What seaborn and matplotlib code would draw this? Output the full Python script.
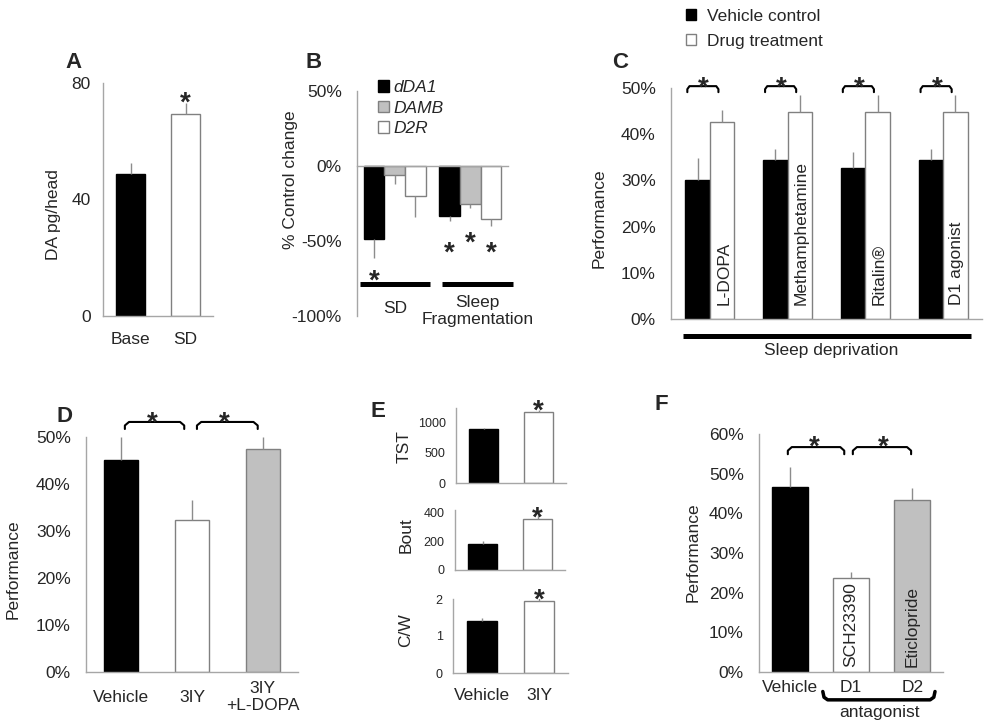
import numpy as np
import pandas as pd
import matplotlib
matplotlib.use("Agg")
import matplotlib.pyplot as plt
import matplotlib.transforms as mtransforms
from matplotlib.patches import Patch
import seaborn as sns

# ---------------- data ----------------
a_categories = ["Base", "SD"]
a_values = [48.8, 69.4]
a_errors = [3.7, 3.7]

b_groups = ["SD", "Sleep\nFragmentation"]
b_receptors = ["dDA1", "DAMB", "D2R"]
b_dda1 = [-48.5, -33.5]
b_damb = [-6.0, -25.5]
b_d2r = [-20.0, -35.5]
b_dda1_err = [12.5, 3.0]
b_damb_err = [6.0, 2.5]
b_d2r_err = [14.0, 4.5]

c_drugs = ["L-DOPA", "Methamphetamine", "Ritalin®", "D1 agonist"]
c_conditions = ["Vehicle control", "Drug treatment"]
c_vehicle = [30.0, 34.4, 32.6, 34.4]
c_vehicle_err = [4.8, 2.4, 3.6, 2.4]
c_drug = [42.6, 44.9, 44.9, 44.9]
c_drug_err = [2.6, 3.5, 3.5, 3.5]
c_group_label = "Sleep deprivation"

d_categories = ["Vehicle", "3IY", "3IY\n+L-DOPA"]
d_values = [45.2, 32.4, 47.5]
d_errors = [4.8, 4.2, 2.5]

e_categories = ["Vehicle", "3IY"]
e_tst = [890, 1159]
e_tst_err = [12, 38]
e_bout = [179, 352]
e_bout_err = [20, 30]
e_cw = [1.40, 1.94]
e_cw_err = [0.09, 0.12]

f_categories = ["Vehicle", "D1", "D2"]
f_drugs = ["", "SCH23390", "Eticlopride"]
f_values = [46.6, 23.6, 43.3]
f_errors = [5.2, 1.6, 3.0]
f_group_label = "antagonist"

# ---------------- style ----------------
W, H = 994, 726
sns.set_style("white")
plt.rcParams["font.family"] = ["Liberation Sans", "DejaVu Sans"]
fig = plt.figure(figsize=(W / 100, H / 100), dpi=100)
fig.patch.set_facecolor("white")

AX_GRAY = "#a6a6a6"
ERR_GRAY = "#8c8c8c"
EDGE_GRAY = "#808080"
BAR_BLACK = "#000000"
BAR_WHITE = "#ffffff"
BAR_GRAY = "#c0c0c0"
PT = 72 / 100  # points per pixel
FS = 12.5


def add_ax(x0, y0, x1, y1):
    return fig.add_axes([x0 / W, 1 - y1 / H, (x1 - x0) / W, (y1 - y0) / H])


def pct(v):
    return f"{v:g}%"


def num(v):
    return f"{v:g}"


def style_axes(ax, n, ylim, yticks, fmt, xlabels=None, xpad_px=0,
               ytick_size=FS, ypad=7.5):
    ax.set_xlim(-0.5, n - 0.5)
    ax.set_ylim(*ylim)
    ax.set_yticks(yticks)
    ax.set_yticklabels([fmt(v) for v in yticks])
    ax.set_xticks(np.arange(n))
    ax.set_xticks(np.arange(n + 1) - 0.5, minor=True)
    if xlabels is None:
        ax.set_xticklabels([])
    else:
        ax.set_xticklabels(xlabels, fontsize=FS)
        for t in ax.get_xticklabels():
            t.set_va("center")
    ax.tick_params(axis="x", which="major", length=0, pad=xpad_px * PT)
    ax.tick_params(axis="x", which="minor", length=4, width=1,
                   color=AX_GRAY, direction="out")
    ax.tick_params(axis="y", length=3.5, width=1, color=AX_GRAY,
                   direction="out", labelsize=ytick_size, pad=ypad)
    for s in ("top", "right"):
        ax.spines[s].set_visible(False)
    for s in ("left", "bottom"):
        ax.spines[s].set_color(AX_GRAY)
        ax.spines[s].set_linewidth(1)
    ax.set_xlabel("")
    ax.set_ylabel("")
    ax.patch.set_alpha(0)


def simple_bars(ax, cats, vals, errs, colors, width):
    df = pd.DataFrame({"category": cats, "value": vals})
    sns.barplot(data=df, x="category", y="value", hue="category", order=cats,
                hue_order=cats, palette=colors, width=width, dodge=False,
                errorbar=None, legend=False, ax=ax, linewidth=1, saturation=1)
    for p, c in zip(ax.patches, colors):
        p.set_edgecolor("#000000" if c == BAR_BLACK else EDGE_GRAY)
    x = np.arange(len(cats))
    ax.errorbar(x, vals, yerr=[np.zeros(len(vals)), errs], fmt="none",
                ecolor=ERR_GRAY, elinewidth=1, capsize=0, zorder=1)


def grouped_bars(ax, groups, series, values_by_series, colors, width):
    rows = []
    for s, vals in zip(series, values_by_series):
        for g, v in zip(groups, vals):
            rows.append({"group": g, "series": s, "value": v})
    df = pd.DataFrame(rows)
    sns.barplot(data=df, x="group", y="value", hue="series", order=groups,
                hue_order=series, palette=colors, width=width, gap=0,
                errorbar=None, legend=False, ax=ax, linewidth=1, saturation=1)
    for p in ax.patches:
        fc = p.get_facecolor()
        p.set_edgecolor("#000000" if fc[0] < 0.1 else EDGE_GRAY)
    n = len(series)
    return {s: np.arange(len(groups)) + width * ((i + 0.5) / n - 0.5)
            for i, s in enumerate(series)}


def star(ax, x, y, size=20):
    ax.annotate("*", xy=(x, y), xytext=(0, -0.64 * size),
                textcoords="offset points", ha="center", va="baseline",
                fontsize=size, fontweight="bold", annotation_clip=False)


def bracket(ax, x0, x1, y_low, y_high):
    dx = (x1 - x0) * 0.07
    dy = (y_high - y_low) * 0.5
    ax.plot([x0, x0, x0 + dx, x1 - dx, x1, x1],
            [y_low, y_high - dy, y_high, y_high, y_high - dy, y_low],
            color="black", lw=1.5, clip_on=False, solid_joinstyle="round")


def ylabel_at(ax, text, xpx, ypx, size=FS):
    ax.set_ylabel(text, fontsize=size, va="center", ha="center")
    bb = ax.get_position()
    x0 = bb.x0 * W
    ytop = (1 - bb.y1) * H
    w = bb.width * W
    h = bb.height * H
    ax.yaxis.set_label_coords((xpx - x0) / w, 1 - (ypx - ytop) / h)


def panel_letter(letter, xpx, ypx):
    fig.text(xpx / W, 1 - ypx / H, letter, fontsize=16, fontweight="bold",
             ha="center", va="center")


# ---------------- Panel A ----------------
axA = add_ax(103, 83, 213, 316)
simple_bars(axA, a_categories, a_values, a_errors, [BAR_BLACK, BAR_WHITE], 0.53)
style_axes(axA, 2, (0, 80), [0, 40, 80], num, a_categories, 24, ypad=5.5)
ylabel_at(axA, "DA pg/head", 54, 215)
star(axA, 1, 76.6)
panel_letter("A", 74, 63)

# ---------------- Panel B ----------------
axB = add_ax(357, 91, 508, 316)
b_vals = [b_dda1, b_damb, b_d2r]
b_errs = [b_dda1_err, b_damb_err, b_d2r_err]
b_colors = [BAR_BLACK, BAR_GRAY, BAR_WHITE]
cB = grouped_bars(axB, b_groups, b_receptors, b_vals, b_colors, 0.82)
for s, v, e in zip(b_receptors, b_vals, b_errs):
    axB.errorbar(cB[s], v, yerr=[e, np.zeros(len(e))], fmt="none",
                 ecolor=ERR_GRAY, elinewidth=1, capsize=0, zorder=1)
style_axes(axB, 2, (-100, 50), [-100, -50, 0, 50], pct, None)
axB.spines["bottom"].set_position(("data", 0))
b_star_levels = {"dDA1": [-70, -51.3], "DAMB": [None, -44.7], "D2R": [None, -51.3]}
for s in b_receptors:
    for j, yv in enumerate(b_star_levels[s]):
        if yv is not None:
            star(axB, cB[s][j], yv)
axB.plot([-0.46, 0.47], [-78.7, -78.7], color="black", lw=3.6,
         clip_on=False, solid_capstyle="butt")
axB.plot([0.62, 1.57], [-78.7, -78.7], color="black", lw=3.6,
         clip_on=False, solid_capstyle="butt")
axB.text(0.005, -94.7, b_groups[0], ha="center", va="center", fontsize=FS)
axB.text(1.095, -96.7, b_groups[1], ha="center", va="center", fontsize=FS)
ylabel_at(axB, "% Control change", 290, 180)
hB = [Patch(facecolor=c, edgecolor=("#000000" if c == BAR_BLACK else EDGE_GRAY),
            linewidth=1) for c in b_colors]
axB.legend(hB, b_receptors, loc="upper left",
           bbox_to_anchor=(378 / W, 1 - 80 / H), bbox_transform=fig.transFigure,
           frameon=False, prop={"style": "italic", "size": FS},
           handlelength=0.65, handleheight=0.65, handletextpad=0.25,
           labelspacing=0.32, borderpad=0, borderaxespad=0)
panel_letter("B", 314, 62)

# ---------------- Panel C ----------------
axC = add_ax(671, 88, 982, 319)
cC = grouped_bars(axC, c_drugs, c_conditions, [c_vehicle, c_drug],
                  [BAR_BLACK, BAR_WHITE], 0.63)
axC.errorbar(cC[c_conditions[0]], c_vehicle,
             yerr=[np.zeros(4), c_vehicle_err], fmt="none", ecolor=ERR_GRAY,
             elinewidth=1, capsize=0, zorder=1)
axC.errorbar(cC[c_conditions[1]], c_drug,
             yerr=[np.zeros(4), c_drug_err], fmt="none", ecolor=ERR_GRAY,
             elinewidth=1, capsize=0, zorder=1)
style_axes(axC, 4, (0, 50), [0, 10, 20, 30, 40, 50], pct, None)
for j, drug in enumerate(c_drugs):
    bracket(axC, j - 0.29, j + 0.11, 49.1, 50.4)
    star(axC, j - 0.08, 52.2)
    axC.text(cC[c_conditions[1]][j] + 0.02, 3.0, drug, rotation=90, ha="center",
             va="bottom", fontsize=FS)
axC.plot([-0.35, 3.36], [-3.7, -3.7], color="black", lw=3.6, clip_on=False,
         solid_capstyle="butt")
axC.text(1.56, -6.9, c_group_label, ha="center", va="center", fontsize=FS)
ylabel_at(axC, "Performance", 599, 218)
hC = [Patch(facecolor=BAR_BLACK, edgecolor="#000000", linewidth=1),
      Patch(facecolor=BAR_WHITE, edgecolor=EDGE_GRAY, linewidth=1)]
fig.legend(hC, c_conditions, loc="upper left",
           bbox_to_anchor=(686 / W, 1 - 9 / H), frameon=False, fontsize=FS,
           handlelength=0.6, handleheight=0.6, handletextpad=0.6,
           labelspacing=0.55, borderpad=0, borderaxespad=0)
panel_letter("C", 620, 63)

# ---------------- Panel D ----------------
axD = add_ax(86, 437, 298, 672)
simple_bars(axD, d_categories, d_values, d_errors,
            [BAR_BLACK, BAR_WHITE, BAR_GRAY], 0.48)
style_axes(axD, 3, (0, 50), [0, 10, 20, 30, 40, 50], pct, d_categories, 25)
bracket(axD, 0.05, 0.89, 51.7, 53.2)
star(axD, 0.44, 55.1)
bracket(axD, 1.07, 1.93, 51.7, 53.2)
star(axD, 1.45, 55.1)
ylabel_at(axD, "Performance", 13, 569)
panel_letter("D", 65, 416)

# ---------------- Panel E ----------------
axE1 = add_ax(456, 408, 566, 483)
simple_bars(axE1, e_categories, e_tst, e_tst_err, [BAR_BLACK, BAR_WHITE], 0.52)
style_axes(axE1, 2, (0, 1230), [0, 500, 1000], num, None, ytick_size=9, ypad=4)
star(axE1, 1, 1344)
ylabel_at(axE1, "TST", 404, 447)

axE2 = add_ax(455, 510, 565, 570)
simple_bars(axE2, e_categories, e_bout, e_bout_err, [BAR_BLACK, BAR_WHITE], 0.52)
style_axes(axE2, 2, (0, 414), [0, 200, 400], num, None, ytick_size=9, ypad=4)
star(axE2, 1, 428)
ylabel_at(axE2, "Bout", 406, 535)

axE3 = add_ax(453, 599, 568, 673)
simple_bars(axE3, e_categories, e_cw, e_cw_err, [BAR_BLACK, BAR_WHITE], 0.52)
style_axes(axE3, 2, (0, 2.0), [0, 1, 2], num, e_categories, 22,
           ytick_size=9, ypad=4)
star(axE3, 1, 2.24)
ylabel_at(axE3, "C/W", 406, 630)
panel_letter("E", 378, 412)

# ---------------- Panel F ----------------
axF = add_ax(759, 434, 943, 672)
simple_bars(axF, f_categories, f_values, f_errors,
            [BAR_BLACK, BAR_WHITE, BAR_GRAY], 0.59)
style_axes(axF, 3, (0, 60), [0, 10, 20, 30, 40, 50, 60], pct, f_categories, 15)
bracket(axF, -0.03, 0.89, 54.9, 56.7)
star(axF, 0.40, 59.2)
bracket(axF, 1.03, 1.98, 54.9, 56.7)
star(axF, 1.52, 59.2)
for j, name in enumerate(f_drugs):
    if name:
        axF.text(j, 1.3, name, rotation=90, ha="center", va="bottom", fontsize=FS)
transF = mtransforms.blended_transform_factory(axF.transData, axF.transAxes)
axF.plot([0.54, 0.56, 0.62, 2.29, 2.35, 2.37],
         [-0.082, -0.106, -0.117, -0.117, -0.106, -0.082],
         transform=transF, clip_on=False, lw=2.5, color="black",
         solid_joinstyle="round", solid_capstyle="round")
axF.text(1.47, -0.172, f_group_label, transform=transF, ha="center",
         va="center", fontsize=FS)
ylabel_at(axF, "Performance", 693, 552)
panel_letter("F", 661, 405)

fig.savefig("out.png", dpi=100, facecolor="white")
